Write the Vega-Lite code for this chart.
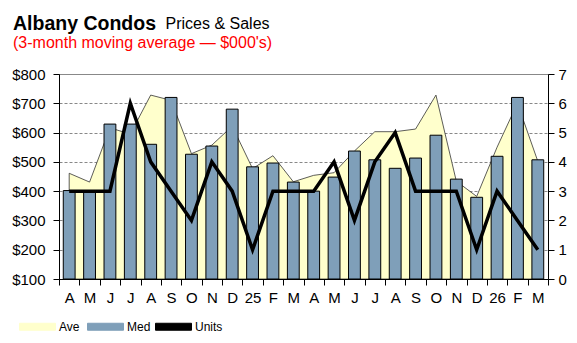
{
  "$schema": "https://vega.github.io/schema/vega-lite/v6.json",
  "width": 489,
  "height": 205,
  "autosize": {"type": "none"},
  "padding": {"left": 59, "top": 74, "right": 29, "bottom": 64},
  "background": "white",
  "config": {
    "font": "Liberation Sans",
    "view": {"stroke": "#888888", "strokeWidth": 1},
    "axis": {"labelFont": "Liberation Sans", "titleFont": "Liberation Sans", "labelColor": "black", "domainColor": "black", "tickColor": "black", "labelFontSize": 15}
  },
  "title": {
    "text": "Albany Condos",
    "subtitle": "(3-month moving average — $000's)",
    "anchor": "start",
    "frame": "group",
    "font": "Liberation Sans",
    "fontSize": 19.5,
    "fontWeight": "bold",
    "color": "black",
    "subtitleFont": "Liberation Sans",
    "subtitleFontSize": 16,
    "subtitleColor": "#ff0000",
    "subtitlePadding": 1,
    "offset": -37,
    "dx": -46
  },
  "data": {
    "values": [
      {"m": "2024-04", "ave": 461, "med": 402, "units": 3},
      {"m": "2024-05", "ave": 431, "med": 400, "units": 3},
      {"m": "2024-06", "ave": 616, "med": 629, "units": 3},
      {"m": "2024-07", "ave": 595, "med": 629, "units": 6},
      {"m": "2024-08", "ave": 728, "med": 560, "units": 4},
      {"m": "2024-09", "ave": 710, "med": 720, "units": 3},
      {"m": "2024-10", "ave": 528, "med": 526, "units": 2},
      {"m": "2024-11", "ave": 557, "med": 554, "units": 4},
      {"m": "2024-12", "ave": 622, "med": 680, "units": 3},
      {"m": "2025-01", "ave": 477, "med": 483, "units": 1},
      {"m": "2025-02", "ave": 521, "med": 496, "units": 3},
      {"m": "2025-03", "ave": 432, "med": 431, "units": 3},
      {"m": "2025-04", "ave": 454, "med": 400, "units": 3},
      {"m": "2025-05", "ave": 463, "med": 448, "units": 4},
      {"m": "2025-06", "ave": 537, "med": 537, "units": 2},
      {"m": "2025-07", "ave": 603, "med": 507, "units": 4},
      {"m": "2025-08", "ave": 603, "med": 478, "units": 5},
      {"m": "2025-09", "ave": 612, "med": 513, "units": 3},
      {"m": "2025-10", "ave": 728, "med": 591, "units": 3},
      {"m": "2025-11", "ave": 434, "med": 441, "units": 3},
      {"m": "2025-12", "ave": 382, "med": 379, "units": 1},
      {"m": "2026-01", "ave": 550, "med": 519, "units": 3},
      {"m": "2026-02", "ave": 700, "med": 720, "units": 2},
      {"m": "2026-03", "ave": 502, "med": 507, "units": 1}
    ]
  },
  "encoding": {
    "x": {
      "field": "m",
      "type": "ordinal",
      "scale": {"paddingInner": 0, "paddingOuter": 0},
      "axis": {
        "title": null,
        "labelAngle": 0,
        "labelFontSize": 15,
        "tickSize": 6,
        "labelPadding": 5,
        "tickBand": "extent",
        "labelExpr": "substring(datum.value,5,7)=='01' ? substring(datum.value,2,4) : substring('JFMAMJJASOND', toNumber(substring(datum.value,5,7))-1, toNumber(substring(datum.value,5,7)))"
      }
    }
  },
  "layer": [
    {
      "mark": {"type": "area", "opacity": 1, "clip": true, "stroke": "#333333", "strokeWidth": 0.8},
      "encoding": {
        "y": {
          "field": "ave", "type": "quantitative",
          "scale": {"domain": [100, 800], "zero": false, "nice": false},
          "axis": {
            "values": [100, 200, 300, 400, 500, 600, 700, 800],
            "labelExpr": "'$' + datum.value",
            "tickSize": 6,
            "labelPadding": 8,
            "grid": true,
            "gridColor": "#888888",
            "gridDash": [3, 2],
            "gridWidth": 1,
            "title": "Prices & Sales",
            "titleAngle": 0,
            "titleAlign": "left",
            "titleBaseline": "alphabetic",
            "titleX": 106,
            "titleY": -46,
            "titleFontSize": 16,
            "titleFontWeight": "normal",
            "titleColor": "black"
          }
        },
        "y2": {"datum": 100},
        "color": {
          "datum": "Ave",
          "scale": {"domain": ["Ave", "Med", "Units"], "range": ["#ffffcc", "#7f9fb9", "#000000"]},
          "legend": {
            "orient": "none",
            "legendX": -40,
            "legendY": 234,
            "direction": "horizontal",
            "title": null,
            "symbolType": "M-1,-0.194H1V0.194H-1Z",
            "symbolSize": 1296,
            "symbolOpacity": 1,
            "symbolStrokeColor": "#000000",
            "symbolStrokeWidth": 1,
            "labelFont": "Liberation Sans",
            "labelFontSize": 12,
            "labelColor": "black",
            "labelOffset": 3,
            "columnPadding": -4,
            "gridAlign": "all",
            "padding": 0,
            "encode": {
              "symbols": {
                "update": {
                  "stroke": {"value": "#000000"},
                  "strokeWidth": {"value": 1}
                }
              }
            }
          }
        }
      }
    },
    {
      "mark": {"type": "bar", "width": {"band": 0.58}, "stroke": "#000000", "strokeWidth": 1},
      "encoding": {
        "y": {"field": "med", "type": "quantitative", "scale": {"domain": [100, 800], "zero": false, "nice": false}, "axis": null},
        "y2": {"datum": 100},
        "color": {"datum": "Med", "scale": {"domain": ["Ave", "Med", "Units"], "range": ["#ffffcc", "#7f9fb9", "#000000"]}}
      }
    },
    {
      "mark": {"type": "line", "strokeWidth": 3.5},
      "encoding": {
        "y": {
          "field": "units", "type": "quantitative",
          "scale": {"domain": [0, 7], "nice": false},
          "axis": {"orient": "right", "values": [0, 1, 2, 3, 4, 5, 6, 7], "tickSize": 6, "labelPadding": 4, "grid": false, "title": null}
        },
        "color": {"datum": "Units", "scale": {"domain": ["Ave", "Med", "Units"], "range": ["#ffffcc", "#7f9fb9", "#000000"]}}
      }
    }
  ],
  "resolve": {"scale": {"y": "independent"}}
}
